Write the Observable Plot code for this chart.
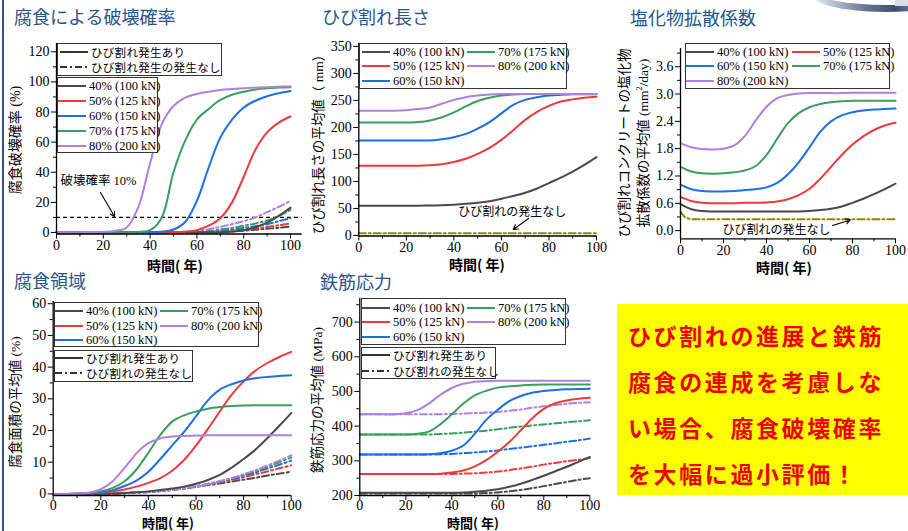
<!DOCTYPE html>
<html>
<head>
<meta charset="utf-8">
<script src="https://cdn.jsdelivr.net/npm/d3@7"></script>
<script src="https://cdn.jsdelivr.net/npm/@observablehq/plot@0.6"></script>
<style>
  body { margin: 0; background: #fff; }
  #page { position: relative; width: 908px; height: 531px; overflow: hidden; background: #fff;
          font-family: "Noto Sans CJK JP", sans-serif; color: #000; }
  .title { position: absolute; font-size: 18px; line-height: 18px; color: #27558a; white-space: nowrap; }
  .ylab { position: absolute; white-space: nowrap; transform: translate(-50%, -50%) rotate(-90deg);
          font-family: "Liberation Serif", "Noto Sans CJK JP", serif; line-height: 15px; text-align: center; }
  .xlab { position: absolute; white-space: nowrap; transform: translate(-50%, -50%);
          font-size: 14px; line-height: 12px; font-weight: bold; }
  .legend { position: absolute; border: 1px solid #333; background: #fff; box-sizing: border-box; }
  .item { position: absolute; white-space: nowrap; display: flex; align-items: center; height: 16px; }
  .item svg { display: block; }
  .serif { font-family: "Liberation Serif", serif; font-size: 12.5px; }
  .jp { font-family: "Noto Sans CJK JP", sans-serif; font-size: 11.5px; letter-spacing: 0.3px; }
  #note { position: absolute; left: 617px; top: 304px; width: 291px; height: 191px; background: #ffff00;
          box-sizing: border-box; padding: 8px 0 0 11px; color: #ee0000; font-weight: bold;
          font-size: 23px; line-height: 46px; letter-spacing: 2.6px; white-space: nowrap; }
</style>
</head>
<body>
<div id="page"></div>
<script>
// Time axis (years) shared by all series
const years = [0,5,10,15,20,25,30,35,40,45,50,55,60,65,70,75,80,85,90,95,100];

const loadLabels = ["40% (100 kN)", "50% (125 kN)", "60% (150 kN)", "70% (175 kN)", "80% (200 kN)"];
const loadColors = ["#4a4a4a", "#f03a3a", "#1d6fe6", "#3a9f5c", "#b07fe4"];
const noCrackColor = "#8a8a00";

// Corrosion failure probability (%), cracked / uncracked
const failProbCracked = [
  [0.1,0.1,0.1,0.1,0.1,0.1,0.1,0.1,0.1,0.1,0.1,0.1,0.1,0.1,0.1,0.5,1.5,3.5,6.5,11,16.5],
  [0.2,0.2,0.2,0.2,0.2,0.2,0.2,0.2,0.2,0.2,0.2,0.5,1.5,4.5,9.5,20,37,55,66.5,73,77],
  [0.2,0.2,0.2,0.2,0.2,0.2,0.2,0.2,0.2,0.5,2,7,21,43,63,75,83,87.5,90.5,92.5,94],
  [0.2,0.2,0.2,0.2,0.2,0.2,0.2,0.4,1.5,10,40,61,75,82,88,91.5,93.5,95,95.8,96.2,96.5],
  [0.2,0.2,0.2,0.3,0.4,1.0,3.3,17,46,72,84,89.5,92,93.5,94.7,95.3,95.8,96.2,96.5,96.8,97]
];
const failProbUncracked = [
  [0.2,0.2,0.2,0.2,0.2,0.2,0.2,0.2,0.2,0.2,0.2,0.2,0.2,0.2,0.5,0.8,1.2,1.8,2.5,3.2,4],
  [0.2,0.2,0.2,0.2,0.2,0.2,0.2,0.2,0.2,0.2,0.2,0.2,0.2,0.2,0.8,1.3,2,2.8,3.7,4.8,6],
  [0.2,0.2,0.2,0.2,0.2,0.2,0.2,0.2,0.2,0.2,0.2,0.2,0.2,0.5,1.2,2,3,4.2,5.5,7.5,9.5],
  [0.2,0.2,0.2,0.2,0.2,0.2,0.2,0.2,0.2,0.2,0.2,0.2,0.5,1,2,3,4.5,6,8,11,15],
  [0.2,0.2,0.2,0.2,0.2,0.2,0.2,0.2,0.2,0.2,0.2,0.5,1.2,2.2,3.8,5.5,7.5,10,13.5,17,21]
];
const failureThreshold = 10;

// Mean crack length (mm)
const crackLength = [
  [55,55,55,55,55,55,55.5,56,57,58.5,60.5,63.5,68,73,79,87,97,107,118,131,145],
  [129,129,129,129,129,129,130,132,136,142,151,162,177,195,214,229,240,248,252,255,257],
  [176,176,176,176,176,176,176,178,182,188,198,210,226,242,251,256,259,260.5,261.5,261.5,261.5],
  [209,209,209,209,209,210,213,219,228,239,249,255,259,261,262,262,262,262,262,262,262],
  [231,231,231,231,232,234,237,244,251,256,259,261,262,262,262,262,262,262,262,262,262]
];
const crackLengthNone = [4,4,4,4,4,4,4,4,4,4,4,4,4,4,4,4,4,4,4,4,4];

// Mean chloride diffusion coefficient of cracked concrete (mm²/day)
const chlorideDiff = [
  [0.58,0.47,0.43,0.42,0.42,0.42,0.42,0.42,0.42,0.42,0.42,0.42,0.43,0.45,0.48,0.53,0.61,0.70,0.80,0.91,1.03],
  [0.74,0.65,0.61,0.60,0.60,0.60,0.61,0.61,0.62,0.64,0.69,0.78,0.92,1.14,1.40,1.66,1.89,2.07,2.21,2.31,2.37],
  [1.01,0.91,0.87,0.86,0.86,0.87,0.89,0.91,0.95,1.05,1.24,1.50,1.83,2.17,2.40,2.53,2.60,2.64,2.66,2.67,2.68],
  [1.40,1.30,1.26,1.25,1.26,1.28,1.32,1.42,1.66,2.02,2.36,2.58,2.71,2.78,2.82,2.84,2.85,2.85,2.85,2.85,2.85],
  [1.92,1.83,1.79,1.78,1.80,1.87,2.08,2.42,2.72,2.91,2.98,3.01,3.02,3.02,3.02,3.02,3.03,3.03,3.03,3.03,3.03]
];
const chlorideNoneYears = [0,1,2,3,4,6,10,20,30,40,50,60,70,80,90,100];
const chlorideNone = [0.42,0.35,0.30,0.275,0.26,0.25,0.25,0.25,0.25,0.25,0.25,0.25,0.25,0.25,0.25,0.25];

// Mean corroded area (%), cracked / uncracked
const corrAreaCracked = [
  [0,0,0,0,0,0.1,0.3,0.5,0.8,1.2,1.7,2.3,3.2,4.4,6,8.3,11,14,17.6,21.5,25.5],
  [0,0,0,0.1,0.3,0.8,1.4,2.3,3.5,5,7.3,10.7,15.2,20.5,26,31.3,35.5,38.9,41.3,43.2,44.8],
  [0,0,0.1,0.2,0.5,1.2,2.5,4.2,7,11,15.3,19.6,24.5,29.5,32.9,34.6,35.8,36.5,36.9,37.2,37.4],
  [0,0,0.1,0.35,0.85,1.9,4,7.7,13,18.6,22.8,24.8,26,26.9,27.4,27.7,27.9,28,28,28,28],
  [0,0,0.1,0.4,1.5,4,8.2,12.8,16,17.5,18.1,18.3,18.4,18.5,18.5,18.5,18.5,18.5,18.5,18.5,18.5]
];
const corrAreaUncracked = [
  [0,0,0,0,0,0.1,0.2,0.4,0.6,0.9,1.3,1.7,2.2,2.8,3.3,3.9,4.5,5.1,5.8,6.4,7],
  [0,0,0,0,0,0.1,0.2,0.4,0.6,0.9,1.3,1.8,2.4,3,3.6,4.4,5.3,6.2,7.1,8.1,9],
  [0,0,0,0,0,0.1,0.2,0.4,0.6,0.9,1.3,1.8,2.4,3.1,3.8,4.7,5.7,6.8,8,9.2,10.5],
  [0,0,0,0,0,0.1,0.2,0.4,0.6,0.9,1.3,1.8,2.4,3.1,4.0,4.9,6,7.2,8.5,10,11.5],
  [0,0,0,0,0,0.1,0.2,0.4,0.6,0.9,1.3,1.8,2.4,3.1,4.0,5.0,6.2,7.5,9.0,10.5,12.2]
];

// Mean rebar stress (MPa), cracked / uncracked
const stressCracked = [
  [208,208,208,208,208,208,208,208,208,209,211,214,218,225,234,245,257,270,283,297,311],
  [262,262,262,262,262,262,262,263,266,272,284,302,326,354,388,423,450,466,474,479,482],
  [318,318,318,318,318,318,319,322,329,344,378,418,447,472,487,496,501,504,506,507,507.5],
  [376,376,376,376,376,378,384,405,434,465,489,502,511,515,517.5,519,520,520,520,520,520],
  [434,434,434,434,437,446,465,490,510,522,528,530,531,531,531,531,531,531,531,531,531]
];
const stressUncracked = [
  [206,206,206,206,206,206,206,206,206,206,206,207,209,212,216,221,227,233,239,245,250],
  [262,262,262,262,262,262,262,262,262,263,264,266,269,273,278,283,289,294,299,303,308],
  [318,318,318,318,318,318,318,319,320,322,324,327,330,334,338,342,346,350,355,359,364],
  [376,376,376,376,376,376,376,377,379,381,384,387,391,395,399,402,405,408,411,414,417],
  [434,434,434,434,434,434,434,434.5,435,436,437.5,439,441,444,448,453,457,461,464.5,467,469]
];

const xMajor = [0, 20, 40, 60, 80, 100];
const xMinor = [10, 30, 50, 70, 90];
const serif = "Liberation Serif, Noto Sans CJK JP, serif";
const dashDot = "7,3,2,3";

const page = document.getElementById("page");

function rows(matrix, xs = years) {
  return matrix.flatMap((vals, i) => vals.map((v, j) => ({year: xs[j], value: v, load: loadLabels[i]})));
}
function seriesLines(matrix, dashed) {
  return Plot.line(rows(matrix), {
    x: "year", y: "value", z: "load", stroke: "load", strokeWidth: 2,
    curve: "catmull-rom", strokeDasharray: dashed ? dashDot : null
  });
}

function chart({left, top, width, height, margin, xDomain = [0, 100], yDomain, yMajor, yMinor, yFormat, marks, xPad = 1}) {
  const [mt, mr, mb, ml] = margin;
  const svg = Plot.plot({
    width, height, marginTop: mt, marginRight: mr, marginBottom: mb, marginLeft: ml,
    x: {domain: xDomain},
    y: {domain: yDomain},
    color: {domain: loadLabels, range: loadColors},
    style: {background: "transparent", overflow: "visible", color: "#000",
            fontFamily: "Liberation Serif, serif", fontSize: "14px"},
    marks: [
      ...marks,
      Plot.ruleY([yDomain[0]], {stroke: "#000", strokeWidth: 1.3}),
      Plot.ruleX([xDomain[0]], {stroke: "#000", strokeWidth: 1.3}),
      Plot.axisX({ticks: xMajor, tickSize: 5, tickPadding: xPad, label: null}),
      Plot.axisX({ticks: xMinor, tickSize: 3, tickFormat: () => "", label: null}),
      Plot.axisY({ticks: yMajor, tickSize: 5, tickPadding: 2, tickFormat: yFormat, label: null}),
      Plot.axisY({ticks: yMinor, tickSize: 3, tickFormat: () => "", label: null})
    ]
  });
  svg.style.position = "absolute";
  svg.style.left = left + "px";
  svg.style.top = top + "px";
  page.appendChild(svg);
}

function addDiv(cls, html, styles) {
  const d = document.createElement("div");
  d.className = cls;
  d.innerHTML = html;
  Object.assign(d.style, styles);
  page.appendChild(d);
  return d;
}
const px = v => v + "px";

function legendItem(x, y, color, dash, text, cls, w = 28) {
  addDiv("item",
    `<svg width="${w}" height="16"><line x1="0" x2="${w}" y1="8" y2="8" stroke="${color}" stroke-width="2"` +
    (dash ? ` stroke-dasharray="${dash}"` : "") + `/></svg><span class="${cls}" style="margin-left:3px">${text}</span>`,
    {left: px(x), top: px(y - 8)});
}
function legendBox(l, t, w, h) {
  addDiv("legend", "", {left: px(l), top: px(t), width: px(w), height: px(h)});
}
function loadLegend(box, columns, rowYs) {
  legendBox(...box);
  for (const [x, idx] of columns) idx.forEach((k, r) => legendItem(x, rowYs[r], loadColors[k], null, loadLabels[k], "serif"));
}
function crackLegend(box, x, rowYs, labels) {
  legendBox(...box);
  legendItem(x, rowYs[0], "#333", null, labels[0], "jp");
  legendItem(x, rowYs[1], "#333", dashDot, labels[1], "jp");
}

// ---- 腐食による破壊確率 ----
chart({
  left: 0, top: 0, width: 310, height: 270, margin: [43, 8.3, 36.5, 56],
  xDomain: [0, 105], yDomain: [-1, 125.5],
  yMajor: [0, 20, 40, 60, 80, 100, 120], yMinor: [10, 30, 50, 70, 90, 110],
  marks: [
    Plot.ruleY([failureThreshold], {stroke: "#000", strokeWidth: 1.2, strokeDasharray: "4,3"}),
    seriesLines(failProbUncracked, true),
    seriesLines(failProbCracked, false),
    Plot.text([{x: 1.7, y: 34.5, t: "破壊確率 10%"}], {x: "x", y: "y", text: "t", textAnchor: "start",
      fontFamily: serif, fontSize: 12.5}),
    Plot.arrow([{x1: 18.8, y1: 26.6, x2: 24.8, y2: failureThreshold + 0.6}],
      {x1: "x1", y1: "y1", x2: "x2", y2: "y2", stroke: "#000", strokeWidth: 1.1, headLength: 7})
  ]
});

// ---- ひび割れ長さ ----
chart({
  left: 300, top: 0, width: 308, height: 270, margin: [42.7, 12, 34.5, 58.3],
  yDomain: [-1, 356],
  yMajor: [0, 50, 100, 150, 200, 250, 300, 350], yMinor: [25, 75, 125, 175, 225, 275, 325],
  marks: [
    Plot.line(crackLengthNone.map((v, j) => ({year: years[j], value: v})),
      {x: "year", y: "value", stroke: noCrackColor, strokeWidth: 2, strokeDasharray: dashDot}),
    seriesLines(crackLength, false),
    Plot.text([{x: 64.6, y: 42.6, t: "ひび割れの発生なし"}], {x: "x", y: "y", text: "t",
      fontFamily: "Noto Sans CJK JP", fontSize: 12}),
    Plot.arrow([{x1: 71.4, y1: 31.5, x2: 65, y2: 11}],
      {x1: "x1", y1: "y1", x2: "x2", y2: "y2", stroke: "#000", strokeWidth: 1.1, headLength: 7})
  ]
});

// ---- 塩化物拡散係数 ----
chart({
  left: 600, top: 0, width: 308, height: 270, margin: [48, 13, 31.7, 80],
  yDomain: [-0.18, 4.0], yFormat: d3.format(".1f"),
  yMajor: [0, 0.6, 1.2, 1.8, 2.4, 3.0, 3.6], yMinor: [0.3, 0.9, 1.5, 2.1, 2.7, 3.3, 3.9],
  marks: [
    Plot.line(chlorideNone.map((v, j) => ({year: chlorideNoneYears[j], value: v})),
      {x: "year", y: "value", stroke: noCrackColor, strokeWidth: 2, strokeDasharray: dashDot, curve: "monotone-x"}),
    seriesLines(chlorideDiff, false),
    Plot.text([{x: 44.7, y: 0.0, t: "ひび割れの発生なし"}], {x: "x", y: "y", text: "t",
      fontFamily: "Noto Sans CJK JP", fontSize: 12}),
    Plot.arrow([{x1: 70.7, y1: 0.11, x2: 79, y2: 0.235}],
      {x1: "x1", y1: "y1", x2: "x2", y2: "y2", stroke: "#000", strokeWidth: 1.1, headLength: 7})
  ]
});

// ---- 腐食領域 ----
chart({
  left: 0, top: 265, width: 305, height: 266, margin: [36, 14.3, 36, 52.7], xPad: 0,
  yDomain: [-0.5, 60.7],
  yMajor: [0, 10, 20, 30, 40, 50, 60], yMinor: [5, 15, 25, 35, 45, 55],
  marks: [
    seriesLines(corrAreaUncracked, true),
    seriesLines(corrAreaCracked, false)
  ]
});

// ---- 鉄筋応力 ----
chart({
  left: 300, top: 265, width: 305, height: 266, margin: [33, 15.7, 36, 59.3], xPad: 0,
  yDomain: [200, 768],
  yMajor: [200, 300, 400, 500, 600, 700], yMinor: [250, 350, 450, 550, 650, 750],
  marks: [
    seriesLines(stressUncracked, true),
    seriesLines(stressCracked, false)
  ]
});

// ---- titles ----
addDiv("title", "腐食による破壊確率", {left: "14px", top: "7px"});
addDiv("title", "ひび割れ長さ", {left: "322px", top: "7px"});
addDiv("title", "塩化物拡散係数", {left: "630px", top: "8px"});
addDiv("title", "腐食領域", {left: "14px", top: "271px"});
addDiv("title", "鉄筋応力", {left: "320px", top: "272px"});

// ---- axis titles ----
addDiv("ylab", "腐食破壊確率 (%)", {left: "15px", top: "140px", fontSize: "14px"});
addDiv("ylab", "ひび割れ長さの平均値（ mm）", {left: "318px", top: "141px", fontSize: "13.5px"});
addDiv("ylab", "ひび割れコンクリートの塩化物<br>拡散係数の平均値 (mm<sup style='font-size:8px'>2</sup>/day)",
  {left: "634px", top: "143px", fontSize: "13.5px"});
addDiv("ylab", "腐食面積の平均値 (%)", {left: "15px", top: "402px", fontSize: "13.5px"});
addDiv("ylab", "鉄筋応力の平均値 (MPa)", {left: "317px", top: "400px", fontSize: "13.5px"});
addDiv("xlab", "時間( 年)", {left: "175px", top: "265px"});
addDiv("xlab", "時間( 年)", {left: "477px", top: "264px"});
addDiv("xlab", "時間( 年)", {left: "784px", top: "267px"});
addDiv("xlab", "時間( 年)", {left: "168px", top: "523px", fontSize: "13px"});
addDiv("xlab", "時間( 年)", {left: "473px", top: "523px", fontSize: "13px"});

// ---- legends ----
crackLegend([57, 43, 165, 33], 60, [52, 67], ["ひび割れ発生あり", "ひび割れ発生の発生なし"]);
loadLegend([57, 77, 101, 76], [[58, [0, 1, 2, 3, 4]]], [86, 101, 116, 131, 146]);
loadLegend([359, 43, 208, 46], [[362, [0, 1, 2]], [467, [3, 4]]], [52, 66, 81]);
loadLegend([685, 43, 205, 46], [[686, [0, 2, 4]], [792, [1, 3]]], [52, 66, 81]);
loadLegend([54, 302, 205, 45], [[55, [0, 1, 2]], [160, [3, 4]]], [311, 326, 340]);
crackLegend([54, 350, 139, 32], 55, [358, 373], ["ひび割れ発生あり", "ひび割れの発生なし"]);
loadLegend([361, 298, 205, 47], [[362, [0, 1, 2]], [467, [3, 4]]], [308, 322, 337]);
crackLegend([361, 347, 135, 32], 362, [355, 371], ["ひび割れ発生あり", "ひび割れの発生なし"]);

// ---- slide frame decorations ----
addDiv("", "", {position: "absolute", left: "2px", top: "0px", width: "1.5px", height: "531px", background: "#33548a"});
addDiv("", "", {position: "absolute", left: "812px", top: "-22px", width: "150px", height: "34px", borderRadius: "50%",
  background: "linear-gradient(to right, #eef0f4 0%, #6a7896 35%, #3e4f70 55%, #9aa6bc 80%, #e4e7ee 100%)"});
addDiv("", "", {position: "absolute", left: "812px", top: "-26px", width: "150px", height: "31px", borderRadius: "50%",
  background: "#fff"});
addDiv("", "", {position: "absolute", left: "895px", top: "0px", width: "13px", height: "6px", background: "#d9dde6"});

// ---- message box ----
addDiv("", "ひび割れの進展と鉄筋<br>腐食の連成を考慮しな<br>い場合、腐食破壊確率<br>を大幅に過小評価！", {}).id = "note";
</script>
</body>
</html>
